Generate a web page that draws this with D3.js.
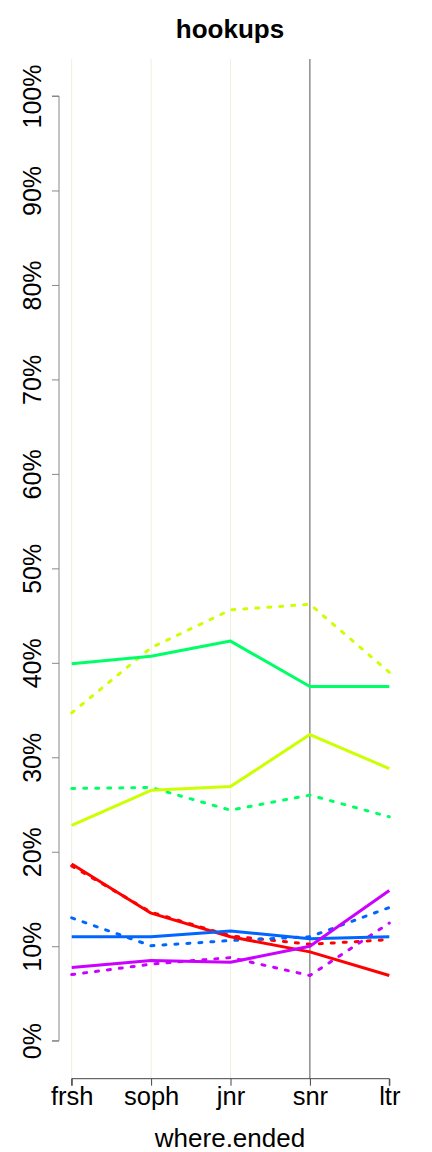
<!DOCTYPE html>
<html><head><meta charset="utf-8">
<script src="https://cdn.jsdelivr.net/npm/d3@7"></script>
<style>body{margin:0;background:#fff}svg{display:block}</style>
</head><body>
<script>
const categories = ["frsh","soph","jnr","snr","ltr"];
const yTicks = [0,10,20,30,40,50,60,70,80,90,100];
const greenSolid = [39.9,40.7,42.3,37.5,37.5];
const yellowDashed = [34.7,41.6,45.6,46.2,39.0];
const yellowSolid = [22.8,26.5,26.9,32.4,28.8];
const greenDashed = [26.7,26.8,24.4,26.0,23.7];
const redSolid = [18.7,13.5,11.0,9.4,6.9];
const redDashed = [18.5,13.6,11.1,10.2,10.7];
const blueSolid = [11.0,11.0,11.6,10.8,11.0];
const blueDashed = [13.0,10.05,10.6,11.0,14.1];
const purpleSolid = [7.75,8.5,8.3,10.0,15.9];
const purpleDashed = [7.0,8.1,8.8,6.9,12.45];
const seriesList = [
  {v: yellowDashed, c:"#CCFF00", d:true},
  {v: greenDashed, c:"#00FF66", d:true},
  {v: redDashed, c:"#FF0000", d:true},
  {v: blueDashed, c:"#0066FF", d:true},
  {v: purpleDashed, c:"#CC00FF", d:true},
  {v: greenSolid, c:"#00FF66", d:false},
  {v: yellowSolid, c:"#CCFF00", d:false},
  {v: redSolid, c:"#FF0000", d:false},
  {v: blueSolid, c:"#0066FF", d:false},
  {v: purpleSolid, c:"#CC00FF", d:false}
];
const W=432,H=1152;
const svg=d3.select("body").append("svg").attr("width",W).attr("height",H);
const xs=d3.scalePoint().domain(categories).range([71.7,389.3]);
const ys=d3.scaleLinear().domain([0,100]).range([1040.7,96]);
const plotTop=59, plotBottom=1078.7;
const font="Liberation Sans, Arial, sans-serif";
// grid lines
svg.selectAll("line.grid").data(categories.slice(0,3)).enter().append("line")
  .attr("x1",d=>xs(d)).attr("x2",d=>xs(d)).attr("y1",plotTop).attr("y2",plotBottom)
  .attr("stroke","#EFEEDF").attr("stroke-width",1);
svg.append("line").attr("x1",xs("snr")).attr("x2",xs("snr")).attr("y1",plotTop).attr("y2",plotBottom)
  .attr("stroke","#555").attr("stroke-width",1);
// lines
const line=d3.line().x((d,i)=>xs(categories[i])).y(d=>ys(d));
seriesList.forEach(s=>{
  svg.append("path").attr("d",line(s.v)).attr("fill","none").attr("stroke",s.c)
    .attr("stroke-width",3).attr("stroke-linecap",s.d?"round":"butt").attr("stroke-linejoin","round")
    .attr("stroke-dasharray",s.d?"3,9":null);
});
// y axis
const yAxis=d3.axisLeft(ys).tickValues(yTicks).tickSize(7).tickFormat(d=>d+"%");
const ga=svg.append("g").attr("transform","translate(59,0)").call(yAxis);
ga.select(".domain").attr("stroke","#888").attr("d","M-7,"+ys(0)+"H0V"+ys(100)+"H-7");
ga.selectAll(".tick line").attr("stroke","#888");
ga.selectAll(".tick text").attr("x",0).attr("y",0).attr("dy","0.35em").attr("text-anchor","middle")
  .attr("transform","translate(-27,0) rotate(-90)")
  .style("font-family",font).style("font-size","25px").attr("fill","#000");
// x axis
const xAxis=d3.axisBottom(xs).tickSize(7);
const gx=svg.append("g").attr("transform","translate(0,"+plotBottom+")").call(xAxis);
gx.select(".domain").attr("stroke","#444").attr("d","M"+xs("frsh")+",7V0H"+xs("ltr")+"V7");
gx.selectAll(".tick line").attr("stroke","#444");
gx.selectAll(".tick text").attr("y",26.3).attr("dy","0")
  .style("font-family",font).style("font-size","25.5px").attr("fill","#000");
svg.append("text").attr("x",230).attr("y",1147).attr("text-anchor","middle")
  .style("font-family",font).style("font-size","26px").text("where.ended");
svg.append("text").attr("x",230).attr("y",38).attr("text-anchor","middle")
  .style("font-family",font).style("font-size","26px").style("font-weight","bold").text("hookups");
</script>
</body></html>
